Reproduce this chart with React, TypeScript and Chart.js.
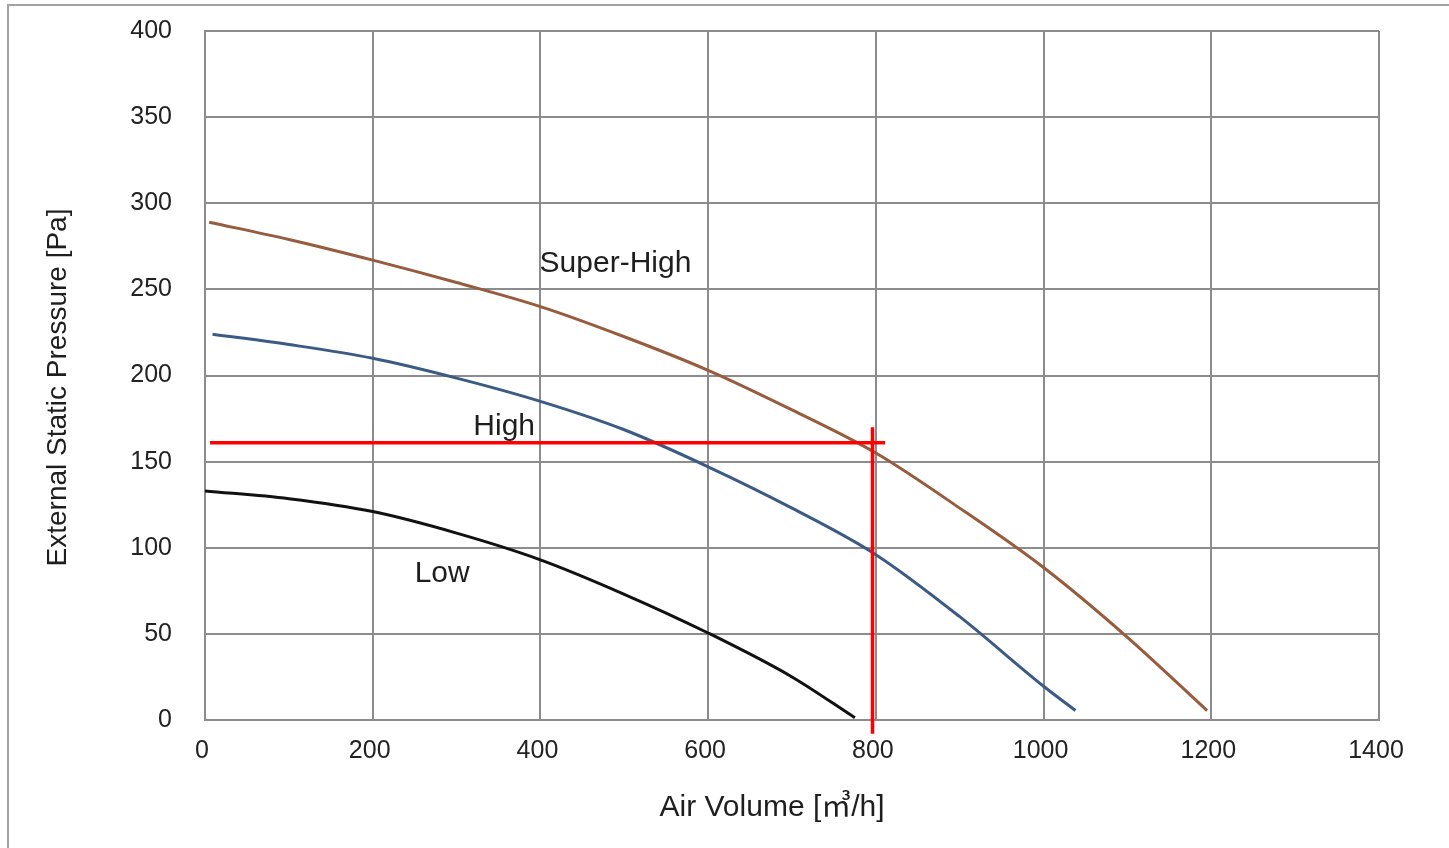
import React, { useEffect, useRef } from "react";
import { Chart, registerables } from "chart.js";

Chart.register(...registerables);

// ---- data ----
const superHighX = [5, 100, 200, 300, 400, 500, 600, 700, 800, 900, 1000, 1100, 1195];
const superHighY = [289, 279, 267, 254, 240, 222.5, 203, 180, 155, 123, 88.5, 48, 5.5];

const highX = [9, 100, 200, 300, 400, 500, 600, 700, 800, 900, 1000, 1038];
const highY = [224, 218, 210, 198.5, 185, 168.5, 147, 123, 96, 60, 19.6, 5.5];

const lowX = [0, 100, 200, 300, 400, 500, 600, 700, 775];
const lowY = [133, 128.5, 121, 108.5, 93, 73, 50.5, 25, 1.3];

// operating point marker (red cross lines)
const opHorizX = [6, 811];
const opHorizY = [161, 161];
const opVertX = [796, 796];
const opVertY = [170, -8];

// curve labels, anchored at data coordinates
const curveLabelText = ["Super-High", "High", "Low"];
const curveLabelX = [399, 320, 250];
const curveLabelY = [265, 170.5, 85];

const xAxisTitle = "Air Volume [㎥/h]";
const yAxisTitle = "External Static Pressure [Pa]";

const X_MIN = 0;
const X_MAX = 1400;
const X_STEP = 200;
const Y_MIN = 0;
const Y_MAX = 400;
const Y_STEP = 50;

const zip = (xs: number[], ys: number[]) => xs.map((x, i) => ({ x, y: ys[i] }));

const FONT = "'Liberation Sans', 'Noto Sans CJK JP', sans-serif";

const decorPlugin = {
  id: "decor",
  beforeDraw(chart: any) {
    const { ctx } = chart;
    ctx.save();
    ctx.fillStyle = "#ffffff";
    ctx.fillRect(0, 0, chart.width, chart.height);
    ctx.strokeStyle = "#a3a3a3";
    ctx.lineWidth = 2;
    ctx.strokeRect(8, 5, chart.width + 40, chart.height + 40);
    ctx.restore();
  },
  afterDatasetsDraw(chart: any) {
    const { ctx, chartArea } = chart;
    const xs = chart.scales.x;
    const ys = chart.scales.y;
    ctx.save();
    ctx.fillStyle = "#1e1e1e";
    ctx.textBaseline = "middle";
    ctx.textAlign = "left";
    ctx.font = `30px ${FONT}`;
    curveLabelText.forEach((t, i) => {
      ctx.fillText(t, xs.getPixelForValue(curveLabelX[i]), ys.getPixelForValue(curveLabelY[i]));
    });

    // x axis title
    ctx.textAlign = "center";
    ctx.font = `30px ${FONT}`;
    ctx.fillText(xAxisTitle, chartArea.left + chartArea.width * 0.483, chartArea.bottom + 88);

    // y axis title
    ctx.save();
    ctx.translate(58, (chartArea.top + chartArea.bottom) / 2 + 12);
    ctx.rotate(-Math.PI / 2);
    ctx.font = `28px ${FONT}`;
    ctx.fillText(yAxisTitle, 0, 0);
    ctx.restore();
    ctx.restore();
  },
};

export default function App() {
  const canvasRef = useRef<HTMLCanvasElement | null>(null);

  useEffect(() => {
    if (!canvasRef.current) return;
    const curveCommon = {
      showLine: true,
      pointRadius: 0,
      borderWidth: 3,
      cubicInterpolationMode: "monotone" as const,
      fill: false,
      order: 1,
    };
    const redCommon = {
      showLine: true,
      pointRadius: 0,
      borderWidth: 3.5,
      borderColor: "#ff0000",
      tension: 0,
      clip: false as any,
      fill: false,
      order: 0,
    };
    const chart = new Chart(canvasRef.current, {
      type: "scatter",
      data: {
        datasets: [
          { ...redCommon, label: "op-h", data: zip(opHorizX, opHorizY) },
          { ...redCommon, label: "op-v", data: zip(opVertX, opVertY) },
          { ...curveCommon, label: "Super-High", borderColor: "#975b3d", data: zip(superHighX, superHighY) },
          { ...curveCommon, label: "High", borderColor: "#3c5b84", data: zip(highX, highY) },
          { ...curveCommon, label: "Low", borderColor: "#111111", data: zip(lowX, lowY) },
        ],
      },
      options: {
        responsive: false,
        animation: false,
        devicePixelRatio: 1,
        layout: { padding: { left: 0, top: 31, right: 70, bottom: 0 } },
        plugins: {
          legend: { display: false },
          tooltip: { enabled: false },
          title: { display: false },
        },
        scales: {
          x: {
            type: "linear",
            min: X_MIN,
            max: X_MAX,
            ticks: {
              stepSize: X_STEP,
              padding: 16,
              labelOffset: -3,
              color: "#222222",
              font: { family: FONT, size: 25 },
              callback: (v: any) => String(v),
            },
            grid: { color: "#8c8c8c", lineWidth: 2, drawTicks: false },
            border: { color: "#8c8c8c", width: 2 },
            afterFit: (scale: any) => {
              scale.height = 128;
              scale.paddingLeft = 0;
              scale.paddingRight = 0;
            },
          },
          y: {
            type: "linear",
            min: Y_MIN,
            max: Y_MAX,
            ticks: {
              stepSize: Y_STEP,
              padding: 33,
              color: "#222222",
              font: { family: FONT, size: 25 },
              callback: (v: any) => String(v),
            },
            grid: { color: "#8c8c8c", lineWidth: 2, drawTicks: false },
            border: { color: "#8c8c8c", width: 2 },
            afterFit: (scale: any) => {
              scale.width = 205;
              scale.paddingTop = 0;
              scale.paddingBottom = 0;
            },
          },
        },
      },
      plugins: [decorPlugin],
    });
    return () => chart.destroy();
  }, []);

  return (
    <div style={{ position: "absolute", left: 0, top: 0, width: 1449, height: 848, background: "#fff" }}>
      <canvas ref={canvasRef} width={1449} height={848} style={{ display: "block", width: 1449, height: 848 }} />
    </div>
  );
}
